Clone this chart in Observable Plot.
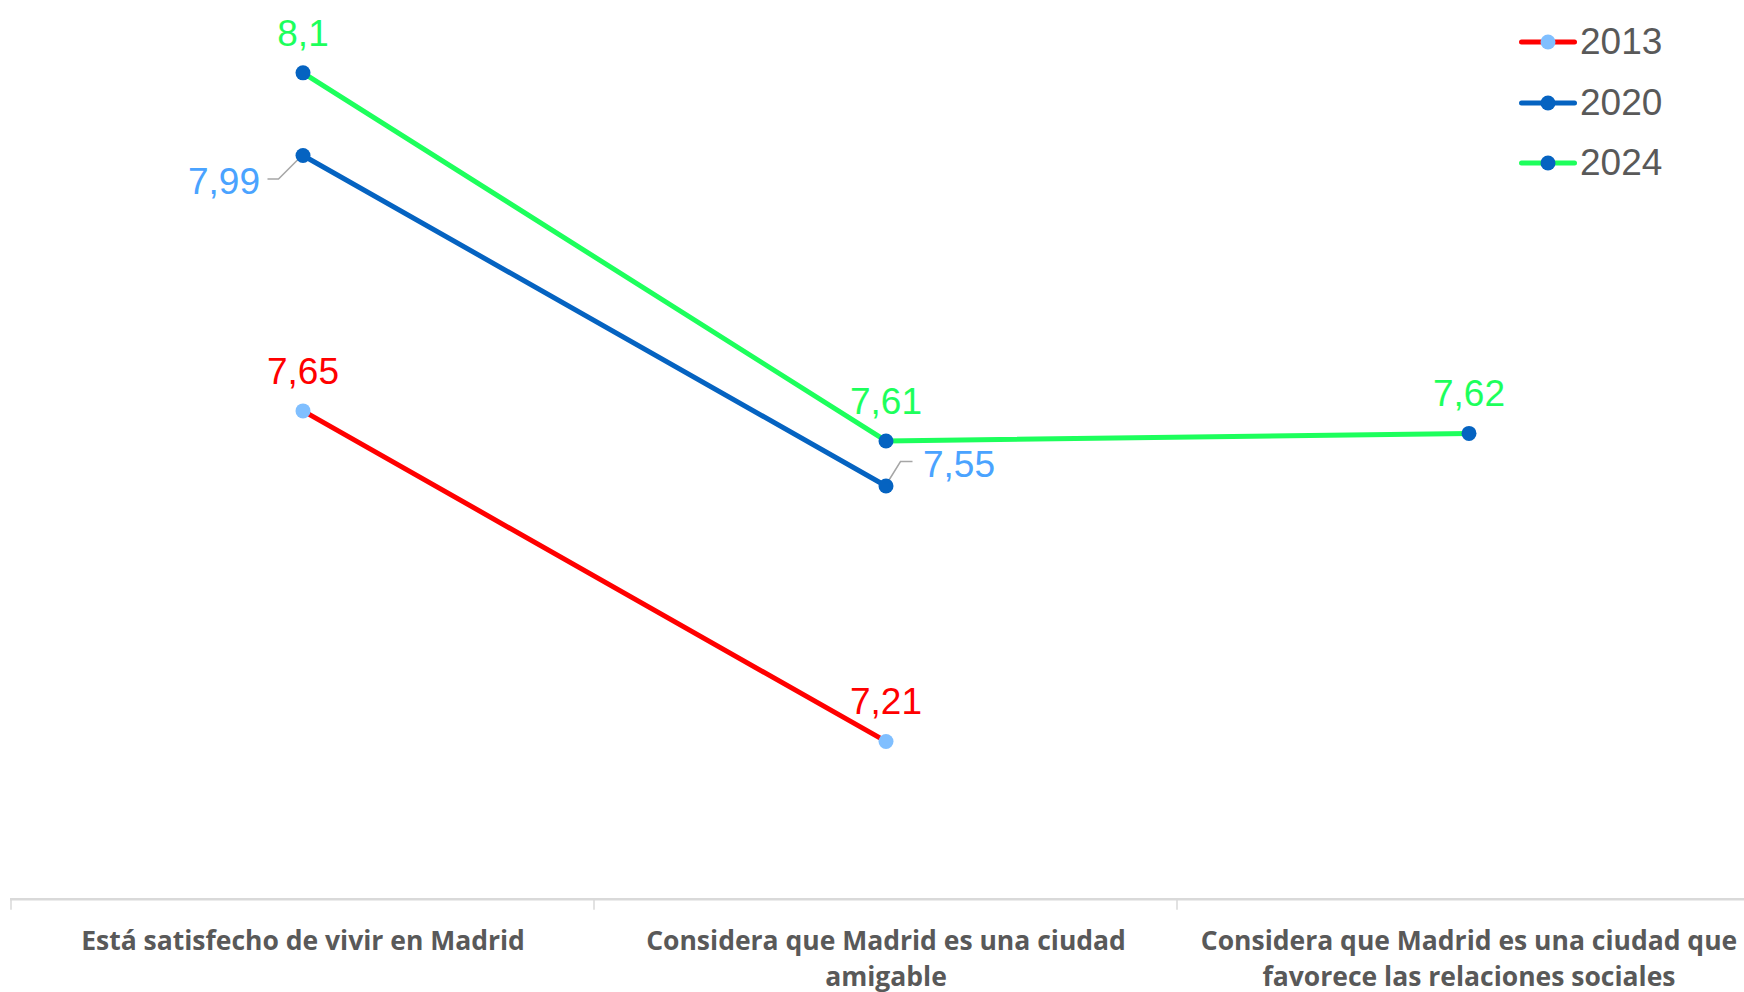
<!DOCTYPE html>
<html>
<head>
<meta charset="utf-8">
<script src="https://cdn.jsdelivr.net/npm/d3@7"></script>
<script src="https://cdn.jsdelivr.net/npm/@observablehq/plot@0.6"></script>
<style>
  html, body { margin: 0; padding: 0; background: #fff; }
  #wrap { position: relative; width: 1744px; height: 992px; overflow: hidden; }
  #legend { position: absolute; left: 1519px; top: 12px; font-family: "Liberation Sans", Arial, sans-serif; font-size: 37px; color: #595959; }
  #legend .row { display: flex; align-items: center; height: 60.5px; }
  #legend svg { margin-right: 3px; }
</style>
</head>
<body>
<div id="wrap"><div id="legend"></div></div>
<script>
// ---- data ----
const categories = [
  "Está satisfecho de vivir en Madrid",
  "Considera que Madrid es una ciudad amigable",
  "Considera que Madrid es una ciudad que favorece las relaciones sociales"
];
const tickLabels = [
  "Está satisfecho de vivir en Madrid",
  "Considera que Madrid es una ciudad\namigable",
  "Considera que Madrid es una ciudad que\nfavorece las relaciones sociales"
];
const years = ["2013", "2020", "2024"];
const values2013 = [7.65, 7.21, null];
const values2020 = [7.99, 7.55, null];
const values2024 = [8.1, 7.61, 7.62];

// ---- styles ----
const lineColor = {"2013": "#ff0000", "2020": "#0563c1", "2024": "#1dff5c"};
const dotColor = {"2013": "#80bfff", "2020": "#0563c1", "2024": "#0563c1"};
const labelColor = {"2013": "#ff0000", "2020": "#4aa3ff", "2024": "#1dff5c"};

const seriesValues = {"2013": values2013, "2020": values2020, "2024": values2024};
const rows = [];
for (const yr of years) {
  seriesValues[yr].forEach((v, i) => {
    if (v != null) rows.push({year: yr, cat: categories[i], idx: i, value: v, label: String(v).replace(".", ",")});
  });
}

const fmtFont = "'Liberation Sans', Arial, sans-serif";

function centerOf(scales, c) {
  const x = scales.x;
  const bw = x(categories[1]) - x(categories[0]);
  return x(c) + bw / 2;
}
const leaderMark = (index, scales) => {
  const g = d3.create("svg:g").attr("fill", "none").attr("stroke", "#a6a6a6").attr("stroke-width", 1.5);
  const r99 = rows.find(d => d.year === "2020" && d.idx === 0);
  const r55 = rows.find(d => d.year === "2020" && d.idx === 1);
  let cx = centerOf(scales, r99.cat), cy = scales.y(r99.value);
  g.append("path").attr("d", `M${cx},${cy}L${cx - 24},${cy + 24}L${cx - 35},${cy + 24}`);
  cx = centerOf(scales, r55.cat); cy = scales.y(r55.value);
  g.append("path").attr("d", `M${cx + 2},${cy - 3}L${cx + 15},${cy - 24}L${cx + 27},${cy - 24}`);
  return g.node();
};
const tickMark = (index, scales) => {
  const g = d3.create("svg:g").attr("stroke", "#d9d9d9").attr("stroke-width", 1.5);
  const x = scales.x;
  const bw = x(categories[1]) - x(categories[0]);
  const y0 = scales.y(7);
  for (let i = 0; i <= categories.length; i++) {
    const xx = x(categories[0]) + i * bw;
    g.append("line").attr("x1", xx).attr("x2", xx).attr("y1", y0).attr("y2", y0 + 11);
  }
  return g.node();
};

const marks = [
  Plot.ruleY([7], {stroke: "#d9d9d9", strokeWidth: 2.5}),
  tickMark,
  Plot.text(categories, {
    x: d => d, y: () => 7, text: (d, i) => tickLabels[i],
    lineAnchor: "top", dy: 24.5, lineHeight: 1.38,
    fontFamily: "'Open Sans', sans-serif", fontWeight: 700, fontSize: 26.5, fill: "#595959"
  }),
  leaderMark
];
for (const yr of years) {
  const data = rows.filter(d => d.year === yr);
  marks.push(Plot.line(data, {x: "cat", y: "value", stroke: lineColor[yr], strokeWidth: 5, strokeLinecap: "round"}));
  marks.push(Plot.dot(data, {x: "cat", y: "value", r: 7.5, fill: dotColor[yr], stroke: "none"}));
}
const isLeft = d => d.year === "2020" && d.idx === 0;
const isRight = d => d.year === "2020" && d.idx === 1;
for (const yr of years) {
  const data = rows.filter(d => d.year === yr && !isLeft(d) && !isRight(d));
  marks.push(Plot.text(data, {x: "cat", y: "value", text: "label", lineAnchor: "bottom", dy: -27,
    fill: labelColor[yr], fontSize: 37, fontFamily: fmtFont}));
}
marks.push(Plot.text(rows.filter(isLeft), {x: "cat", y: "value", text: "label", lineAnchor: "bottom", textAnchor: "end",
  dx: -43, dy: 39, fill: labelColor["2020"], fontSize: 37, fontFamily: fmtFont}));
marks.push(Plot.text(rows.filter(isRight), {x: "cat", y: "value", text: "label", lineAnchor: "bottom", textAnchor: "start",
  dx: 37, dy: -9, fill: labelColor["2020"], fontSize: 37, fontFamily: fmtFont}));

const chart = Plot.plot({
  width: 1744,
  height: 992,
  marginLeft: 10, marginRight: 0, marginTop: 0, marginBottom: 0,
  style: {background: "#fff", overflow: "hidden"},
  x: {type: "band", domain: categories, range: [10, 1760.5], padding: 0, axis: null},
  y: {domain: [7, 8.2], range: [898.7, -2.8], axis: null},
  marks
});
document.getElementById("wrap").prepend(chart);

const legend = d3.select("#legend");
for (const yr of years) {
  const row = legend.append("div").attr("class", "row");
  const s = row.append("svg").attr("width", 58).attr("height", 18);
  s.append("line").attr("x1", 2.5).attr("x2", 55.5).attr("y1", 9).attr("y2", 9)
    .attr("stroke", lineColor[yr]).attr("stroke-width", 5).attr("stroke-linecap", "round");
  s.append("circle").attr("cx", 29).attr("cy", 9).attr("r", 7.5).attr("fill", dotColor[yr]);
  row.append("span").text(yr);
}
</script>
</body>
</html>
